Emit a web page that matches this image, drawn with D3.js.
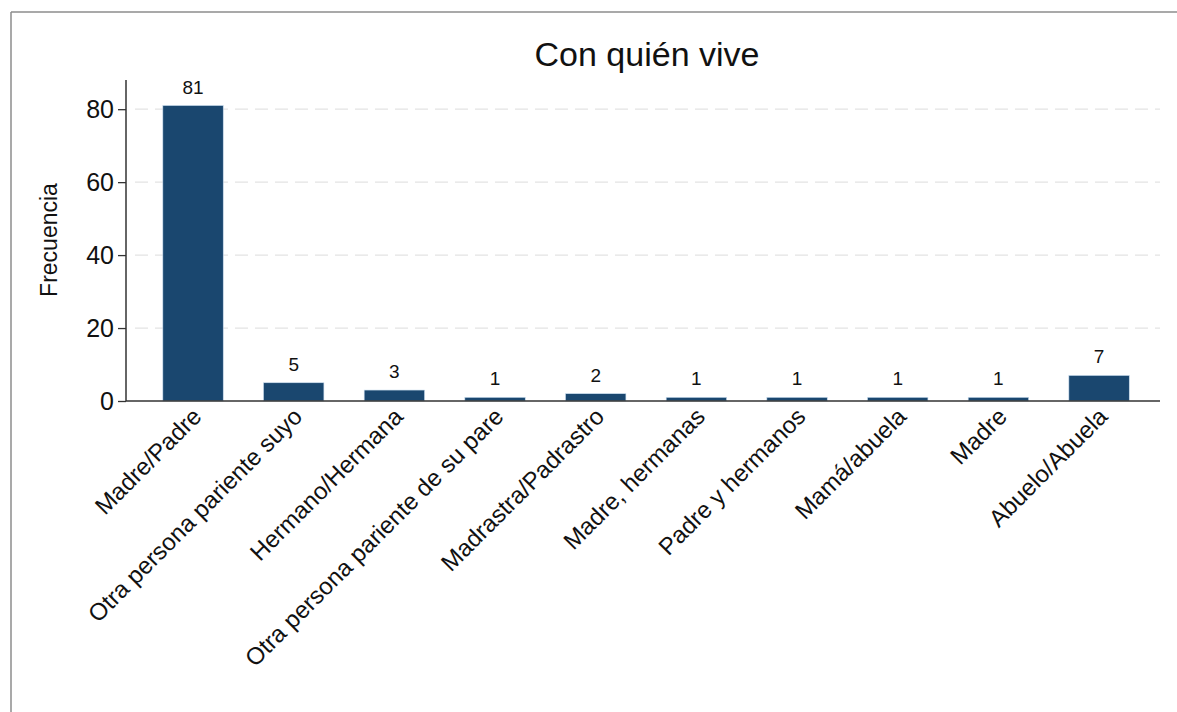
<!DOCTYPE html>
<html>
<head>
<meta charset="utf-8">
<script src="https://cdn.jsdelivr.net/npm/d3@7"></script>
<style>
  html, body { margin: 0; padding: 0; background: #fff; overflow: hidden; }
  svg { display: block; font-family: "Liberation Sans", Arial, Helvetica, sans-serif; }
</style>
</head>
<body>
<svg id="chart" width="1177" height="712"></svg>
<script>
const categories = [
  "Madre/Padre",
  "Otra persona pariente suyo",
  "Hermano/Hermana",
  "Otra persona pariente de su pare",
  "Madrastra/Padrastro",
  "Madre, hermanas",
  "Padre y hermanos",
  "Mamá/abuela",
  "Madre",
  "Abuelo/Abuela"
];
const frequencies = [81, 5, 3, 1, 2, 1, 1, 1, 1, 7];
const yTicks = [0, 20, 40, 60, 80];
const titleText = "Con quién vive";
const yTitle = "Frecuencia";

const svg = d3.select("#chart");

// outer frame: only top and left edges are inside the picture
svg.append("line")
  .attr("x1", 11).attr("x2", 1177).attr("y1", 12).attr("y2", 12)
  .attr("stroke", "#8c8c8c").attr("stroke-width", 1.5);
svg.append("line")
  .attr("x1", 11).attr("x2", 11).attr("y1", 12).attr("y2", 712)
  .attr("stroke", "#8c8c8c").attr("stroke-width", 1.5);

const x = d3.scaleBand()
  .domain(categories)
  .range([142.7, 1149.4])
  .paddingInner(0.4)
  .paddingOuter(0.2);

const y = d3.scaleLinear().domain([0, 88]).range([401, 80]);

const axisLeftX = 126, axisRightX = 1160;

// gridlines
svg.append("g").selectAll("line")
  .data(yTicks.filter(d => d > 0))
  .join("line")
  .attr("x1", 135).attr("x2", axisRightX)
  .attr("y1", d => y(d)).attr("y2", d => y(d))
  .attr("stroke", "#e4e4e4")
  .attr("stroke-width", 1.2)
  .attr("stroke-dasharray", "13,7");

// bars
svg.append("g").selectAll("rect")
  .data(frequencies)
  .join("rect")
  .attr("x", (d, i) => x(categories[i]))
  .attr("width", x.bandwidth())
  .attr("y", d => y(d))
  .attr("height", d => y(0) - y(d))
  .attr("fill", "#1a476f")
  .attr("stroke", "#c9dcee")
  .attr("stroke-width", 0.6);

// value labels
svg.append("g").selectAll("text")
  .data(frequencies)
  .join("text")
  .attr("x", (d, i) => x(categories[i]) + x.bandwidth() / 2)
  .attr("y", d => y(d) - 12)
  .attr("text-anchor", "middle")
  .attr("font-size", 19)
  .attr("fill", "#111")
  .text(d => d);

// y axis
const yAxis = d3.axisLeft(y).tickValues(yTicks).tickSize(8).tickPadding(4).tickFormat(d3.format("d"));
const gy = svg.append("g").attr("transform", `translate(${axisLeftX},0)`).call(yAxis);
gy.select(".domain").remove();
gy.selectAll(".tick line").attr("stroke", "#333").attr("stroke-width", 1.3);
gy.selectAll(".tick text").attr("font-size", 25).attr("fill", "#111")
  .attr("font-family", "Liberation Sans, Arial, sans-serif");
svg.append("line")
  .attr("x1", axisLeftX).attr("x2", axisLeftX)
  .attr("y1", y.range()[1]).attr("y2", y(0))
  .attr("stroke", "#333").attr("stroke-width", 1.5);

// x axis
svg.append("line")
  .attr("x1", axisLeftX).attr("x2", axisRightX)
  .attr("y1", y(0)).attr("y2", y(0))
  .attr("stroke", "#333").attr("stroke-width", 1.5);

const xAxis = d3.axisBottom(x).tickSize(0).tickPadding(0);
const gx = svg.append("g").attr("transform", `translate(0,${y(0)})`).call(xAxis);
gx.select(".domain").remove();
gx.selectAll(".tick text")
  .attr("font-size", 24)
  .attr("fill", "#111")
  .attr("font-family", "Liberation Sans, Arial, sans-serif")
  .attr("text-anchor", "end")
  .attr("dy", null)
  .attr("y", null)
  .attr("transform", "translate(10,17) rotate(-45)");

// y title
svg.append("text")
  .attr("transform", "translate(57,240) rotate(-90)")
  .attr("text-anchor", "middle")
  .attr("font-size", 23)
  .attr("fill", "#111")
  .text(yTitle);

// title
svg.append("text")
  .attr("x", 647).attr("y", 66)
  .attr("text-anchor", "middle")
  .attr("font-size", 34)
  .attr("fill", "#111")
  .text(titleText);
</script>
</body>
</html>
